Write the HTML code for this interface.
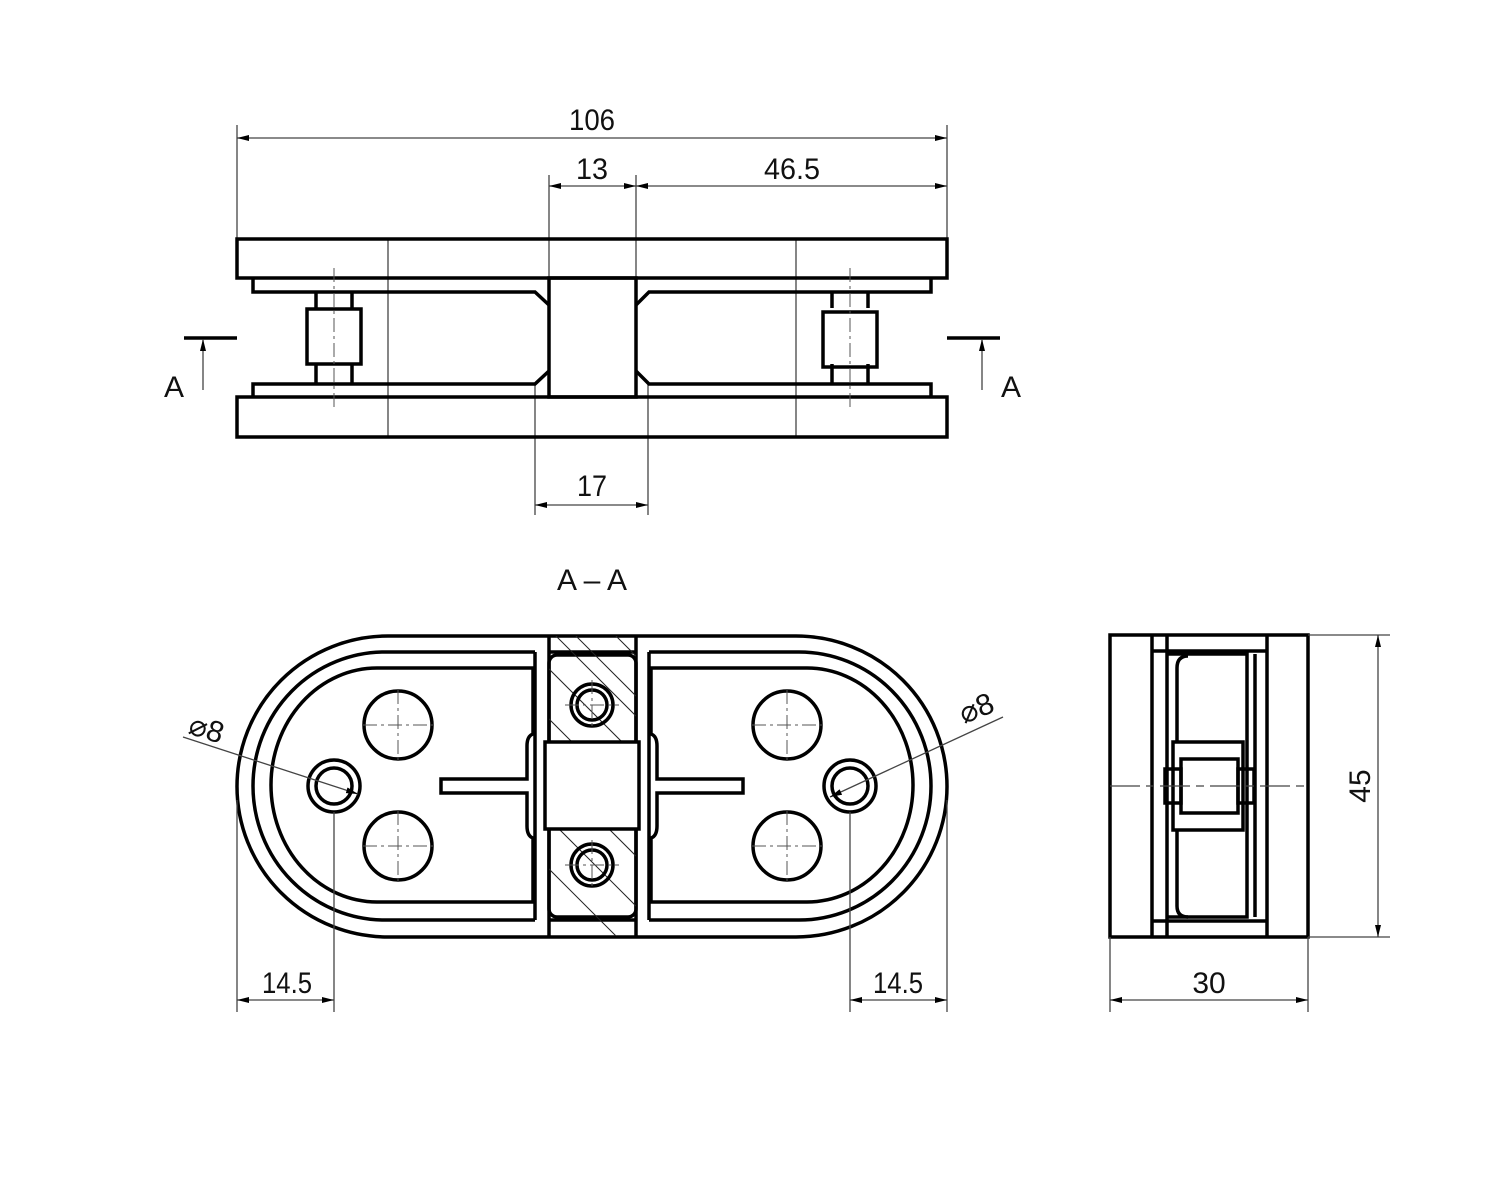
<!DOCTYPE html>
<html><head><meta charset="utf-8"><style>
html,body{margin:0;padding:0;background:#fff}
svg{display:block}
text{font-family:"Liberation Sans",sans-serif;font-size:30px;fill:#111}
.k{stroke:#000;stroke-width:3.5;fill:none}
.t{stroke:#444;stroke-width:1.3;fill:none}
.c{stroke:#555;stroke-width:1;fill:none;stroke-dasharray:14 4 3 4}
.h{stroke:#222;stroke-width:1;fill:none}
</style></head><body>
<svg width="1500" height="1180" viewBox="0 0 1500 1180" xmlns="http://www.w3.org/2000/svg">
<defs>
<marker id="a" viewBox="0 0 12 6" refX="12" refY="3" markerWidth="12" markerHeight="6" orient="auto-start-reverse" markerUnits="userSpaceOnUse"><path d="M0,0L12,3L0,6z" fill="#000"/></marker>
<clipPath id="cb"><rect x="549" y="636" width="87" height="300"/></clipPath>
</defs>

<!-- ===== TOP VIEW ===== -->
<g class="t">
<line x1="237" y1="125" x2="237" y2="239"/><line x1="947" y1="125" x2="947" y2="239"/>
<line x1="549" y1="175" x2="549" y2="278"/><line x1="636" y1="175" x2="636" y2="278"/>
<line x1="535" y1="384" x2="535" y2="515"/><line x1="648" y1="384" x2="648" y2="515"/>
<line x1="388" y1="239" x2="388" y2="437"/><line x1="796" y1="239" x2="796" y2="437"/>
<line x1="237" y1="138" x2="947" y2="138" marker-start="url(#a)" marker-end="url(#a)"/>
<line x1="549" y1="186" x2="636" y2="186" marker-start="url(#a)" marker-end="url(#a)"/>
<line x1="636" y1="186" x2="947" y2="186" marker-start="url(#a)" marker-end="url(#a)"/>
<line x1="535" y1="505" x2="648" y2="505" marker-start="url(#a)" marker-end="url(#a)"/>
</g>
<text x="592" y="130" text-anchor="middle" textLength="46" lengthAdjust="spacingAndGlyphs">106</text>
<text x="592" y="179" text-anchor="middle" textLength="32" lengthAdjust="spacingAndGlyphs">13</text>
<text x="792" y="179" text-anchor="middle" textLength="56" lengthAdjust="spacingAndGlyphs">46.5</text>
<text x="592" y="496" text-anchor="middle" textLength="30" lengthAdjust="spacingAndGlyphs">17</text>

<g class="k">
<rect x="237" y="239" width="710" height="39"/>
<rect x="237" y="397" width="710" height="40"/>
<path d="M253,278V292H535L549,305"/><path d="M931,278V292H649L636,305"/>
<path d="M253,397V384H535L549,371"/><path d="M931,397V384H649L636,371"/>
<rect x="549" y="278" width="87" height="119"/>
<path d="M316,292V308M352,292V308M316,364V384M352,364V384"/>
<rect x="307" y="309" width="54" height="55"/>
<path d="M832,292V308M868,292V308M832,364V384M868,364V384"/>
<rect x="823" y="312" width="54" height="55"/>
</g>
<line class="c" x1="334" y1="268" x2="334" y2="410"/>
<line class="c" x1="850" y1="268" x2="850" y2="410"/>

<path d="M184,338H237" class="k"/>
<line x1="203" y1="390" x2="203" y2="339" class="t" marker-end="url(#a)"/>
<text x="174" y="397" text-anchor="middle">A</text>
<path d="M947,338H1000" class="k"/>
<line x1="982" y1="390" x2="982" y2="339" class="t" marker-end="url(#a)"/>
<text x="1011" y="397" text-anchor="middle">A</text>

<text x="592" y="590" text-anchor="middle">A – A</text>

<!-- ===== SECTION VIEW ===== -->
<g class="k">
<path d="M549,636H388A151,150.5 0 0 0 388,937H549"/>
<path d="M636,636H796A151,150.5 0 0 1 796,937H636"/>
<path d="M535,652H385A132,134 0 0 0 385,920H535"/>
<path d="M649,652H799A132,134 0 0 1 799,920H649"/>
<path d="M533,668H377A106,117 0 0 0 377,902H533V838Q527,836 527,826V793H441V779H527V746Q527,736 533,734Z"/>
<path d="M651,668H807A106,117 0 0 1 807,902H651V838Q657,836 657,826V793H743V779H657V746Q657,736 651,734Z"/>
<path d="M535,652V920M649,652V920"/>
<path d="M549,636H636M549,652H636M549,920H636M549,937H636"/>
<path d="M549,636V937M636,636V937"/>
<rect x="549" y="655" width="87" height="262" rx="8"/>
<circle cx="398" cy="725" r="34"/><circle cx="398" cy="846" r="34"/>
<circle cx="787" cy="725" r="34"/><circle cx="787" cy="846" r="34"/>
<circle cx="334" cy="786" r="26"/><circle cx="334" cy="786" r="18"/>
<circle cx="850" cy="786" r="26"/><circle cx="850" cy="786" r="18"/>
</g>
<g clip-path="url(#cb)" class="h">
<path d="M520,640l130,130M520,690l130,130M520,740l130,130M520,790l130,130M520,840l130,130M560,620l130,130M600,620l80,80M520,600l130,130"/>
</g>
<g class="k" fill="#fff">
<rect x="545" y="742" width="94" height="87" fill="#fff"/>
<circle cx="592" cy="705" r="21"/><circle cx="592" cy="705" r="15"/>
<circle cx="592" cy="865" r="21"/><circle cx="592" cy="865" r="15"/>
</g>
<g class="c">
<path d="M363,725H433M398,690V760M363,846H433M398,811V881M752,725H822M787,690V760M752,846H822M787,811V881"/>
<path d="M565,705H619M592,680V730M565,865H619M592,840V890"/>
</g>
<g class="t">
<line x1="237" y1="800" x2="237" y2="1012"/><line x1="334" y1="812" x2="334" y2="1012"/>
<line x1="850" y1="812" x2="850" y2="1012"/><line x1="947" y1="800" x2="947" y2="1012"/>
<line x1="237" y1="1000" x2="334" y2="1000" marker-start="url(#a)" marker-end="url(#a)"/>
<line x1="850" y1="1000" x2="947" y2="1000" marker-start="url(#a)" marker-end="url(#a)"/>
<line x1="183" y1="737" x2="358" y2="794" marker-end="url(#a)"/>
<line x1="1003" y1="717" x2="830" y2="797" marker-end="url(#a)"/>
</g>
<text x="287" y="993" text-anchor="middle" textLength="50" lengthAdjust="spacingAndGlyphs">14.5</text>
<text x="898" y="993" text-anchor="middle" textLength="50" lengthAdjust="spacingAndGlyphs">14.5</text>
<text x="0" y="0" transform="translate(187,733) rotate(18)">⌀8</text>
<text x="0" y="0" transform="translate(964,724) rotate(-22)">⌀8</text>

<!-- ===== SIDE VIEW ===== -->
<g class="k">
<rect x="1110" y="635" width="198" height="302"/>
<path d="M1152,635V937M1167,635V937M1267,635V937"/>
<path d="M1152,651H1267M1152,921H1267"/>
<path d="M1167,654H1247V917H1167"/>
<path d="M1255,654V917"/>
<path d="M1188,656Q1177,656 1177,668V742M1177,829V906Q1177,917 1188,917"/>
<rect x="1173" y="742" width="70" height="88"/>
<rect x="1181" y="759" width="57" height="54" fill="#fff"/>
<rect x="1165" y="769" width="16" height="34"/>
<rect x="1238" y="769" width="16" height="34"/>
</g>
<line class="t" x1="1110" y1="786" x2="1305" y2="786" stroke-dasharray="30 6 8 6"/>
<g class="t">
<line x1="1308" y1="635" x2="1390" y2="635"/><line x1="1308" y1="937" x2="1390" y2="937"/>
<line x1="1378" y1="635" x2="1378" y2="937" marker-start="url(#a)" marker-end="url(#a)"/>
<line x1="1110" y1="937" x2="1110" y2="1012"/><line x1="1308" y1="937" x2="1308" y2="1012"/>
<line x1="1110" y1="1000" x2="1308" y2="1000" marker-start="url(#a)" marker-end="url(#a)"/>
</g>
<text x="0" y="0" transform="translate(1370,786) rotate(-90)" text-anchor="middle">45</text>
<text x="1209" y="993" text-anchor="middle">30</text>
</svg>
</body></html>
